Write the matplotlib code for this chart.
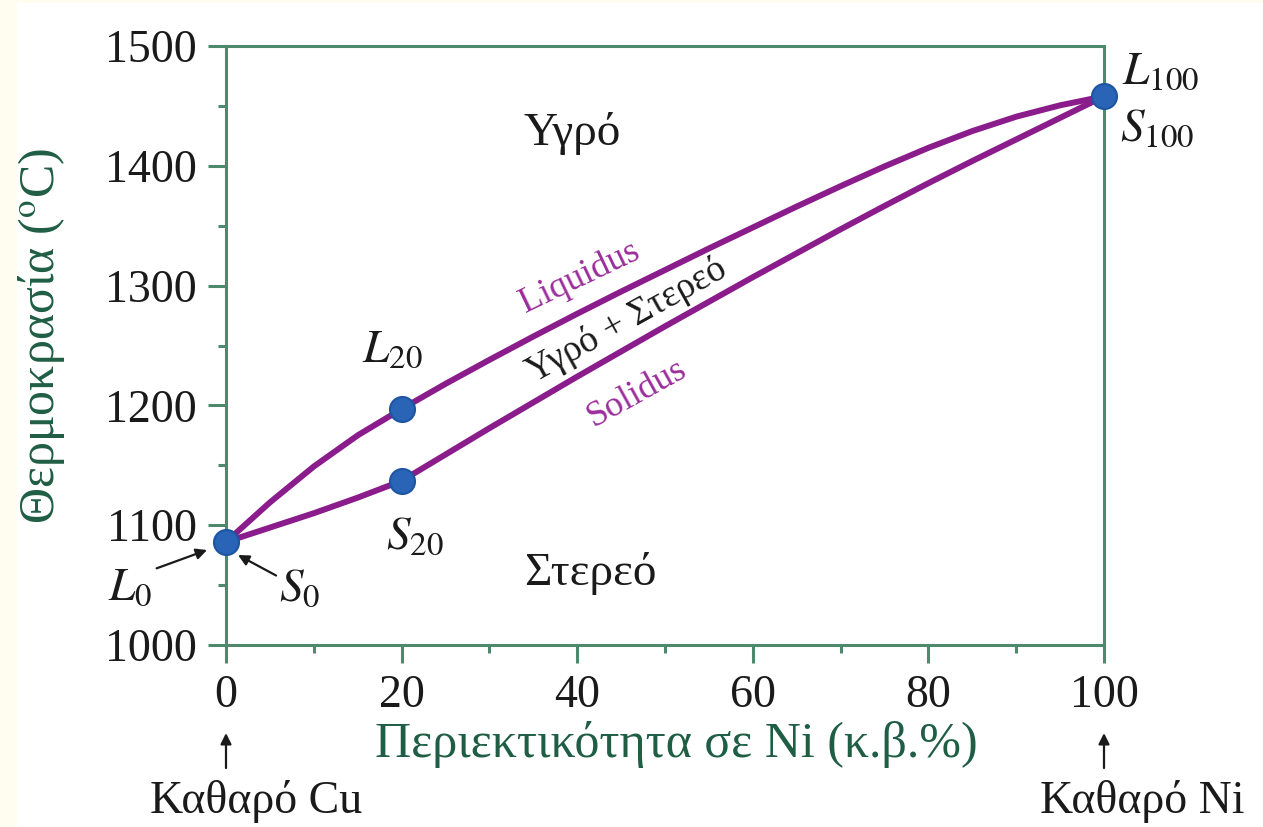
import matplotlib
matplotlib.use("Agg")
import matplotlib.pyplot as plt
from matplotlib.patches import Rectangle

# ---- data ----
ni_pct = [0, 5, 10, 15, 20, 25, 30, 35, 40, 45, 50, 55, 60, 65, 70, 75, 80, 85, 90, 95, 100]
liquidus_T = [1086, 1119, 1149, 1175, 1197, 1218, 1238, 1257.5, 1276.5, 1295, 1313,
              1331, 1348.5, 1366, 1383, 1399.5, 1415, 1429, 1441, 1450.5, 1458]
solidus_T = [1086, 1098, 1110, 1123, 1137, 1159, 1181, 1202.5, 1224, 1245, 1266,
             1286.5, 1307, 1327, 1347, 1366.5, 1385.5, 1404, 1422, 1440, 1458]
point_x = [0, 20, 20, 100]
point_T = [1086, 1197, 1137, 1458]
x_ticks = [0, 20, 40, 60, 80, 100]
y_ticks = [1000, 1100, 1200, 1300, 1400, 1500]

plt.rcParams['font.family'] = ['Liberation Serif', 'DejaVu Serif']
plt.rcParams['mathtext.fontset'] = 'stix'

spine_c = '#4d896c'
label_c = '#1f5e45'
curve_c = '#8a1c8c'
text_purple = '#9a2d9b'
ink = '#1a1a1a'

W, H = 1263, 827
fig = plt.figure(figsize=(W / 100, H / 100), dpi=100, facecolor='#fefdf0')
fig.add_artist(Rectangle((17 / W, 0), 1, 1 - 3 / H, transform=fig.transFigure,
                         facecolor='white', edgecolor='none', zorder=-10))
ax = fig.add_axes([226 / W, 1 - 645 / H, (1104 - 226) / W, (645 - 46) / H])
ax.set_facecolor('white')

ax.plot(ni_pct, liquidus_T, color=curve_c, lw=4.3, solid_capstyle='round',
        solid_joinstyle='round', zorder=2)
ax.plot(ni_pct, solidus_T, color=curve_c, lw=4.3, solid_capstyle='round',
        solid_joinstyle='round', zorder=2)
ax.plot(point_x, point_T, 'o', ms=18, mfc='#2a64b6', mec='#1d55a3', mew=1.5,
        clip_on=False, zorder=4)

ax.set_xlim(0, 100)
ax.set_ylim(1000, 1500)
ax.set_xticks(x_ticks)
ax.set_yticks(y_ticks)
ax.set_xticks(range(10, 100, 20), minor=True)
ax.set_yticks(range(1050, 1500, 100), minor=True)
for s in ax.spines.values():
    s.set_color(spine_c)
    s.set_linewidth(2.2)
ax.tick_params(which='major', direction='out', length=13, width=2.2,
               color=spine_c, labelsize=33, labelcolor=ink, pad=8)
ax.tick_params(which='minor', direction='out', length=6, width=2.2, color=spine_c)

ax.text(-0.210, 0.516, 'Θερμοκρασία ($^{\\mathrm{o}}$C)', rotation=90, ha='center',
        va='center', transform=ax.transAxes, fontsize=36, color=label_c)
ax.text(0.5125, -0.187, 'Περιεκτικότητα σε Ni (κ.β.%)', ha='center',
        va='baseline', transform=ax.transAxes, fontsize=36, color=label_c)

# region labels
ax.text(39.4, 1417, 'Υγρό', ha='center', va='baseline', fontsize=34, color=ink)
ax.text(41.5, 1050, 'Στερεό', ha='center', va='baseline', fontsize=34, color=ink)
ax.text(40.3, 1307, 'Liquidus', ha='center', va='center', rotation=25.5,
        fontsize=26, color=text_purple, rotation_mode='anchor')
ax.text(45.7, 1271, 'Υγρό + Στερεό', ha='center', va='center', rotation=29,
        fontsize=27, color=ink, rotation_mode='anchor')
ax.text(46.8, 1210, 'Solidus', ha='center', va='center', rotation=29,
        fontsize=26, color=text_purple, rotation_mode='anchor')

# point labels
arrow_kw = dict(arrowstyle='-|>', color=ink, lw=1.6, mutation_scale=16,
                shrinkA=0, shrinkB=0)
ax.annotate('', xy=(-2.16, 1079.3), xytext=(-7.9, 1064.0),
            arrowprops=arrow_kw, annotation_clip=False)
ax.annotate('', xy=(1.37, 1075.1), xytext=(5.7, 1058.0),
            arrowprops=arrow_kw, annotation_clip=False)
ax.text(-10.9, 1047.6, '$L_{0}$', ha='center', va='center', fontsize=34,
        color=ink, clip_on=False)
ax.text(8.4, 1046, '$S_{0}$', ha='center', va='center', fontsize=34, color=ink)
ax.text(19.0, 1246, '$L_{20}$', ha='center', va='center', fontsize=34, color=ink)
ax.text(21.5, 1090, '$S_{20}$', ha='center', va='center', fontsize=34, color=ink)
ax.text(106.4, 1478, '$L_{100}$', ha='center', va='center', fontsize=34,
        color=ink, clip_on=False)
ax.text(106.0, 1430, '$S_{100}$', ha='center', va='center', fontsize=34,
        color=ink, clip_on=False)

# pure-metal markers below the axis
for xv in (0, 100):
    ax.annotate('', xy=(xv, 926.5), xytext=(xv, 897.3), annotation_clip=False,
                arrowprops=arrow_kw)
ax.text(3.4, 859.8, 'Καθαρό Cu', ha='center', va='baseline', fontsize=33,
        color=ink, clip_on=False)
ax.text(104.3, 859.8, 'Καθαρό Ni', ha='center', va='baseline', fontsize=33,
        color=ink, clip_on=False)

fig.savefig('out.png', dpi=100, facecolor=fig.get_facecolor())
